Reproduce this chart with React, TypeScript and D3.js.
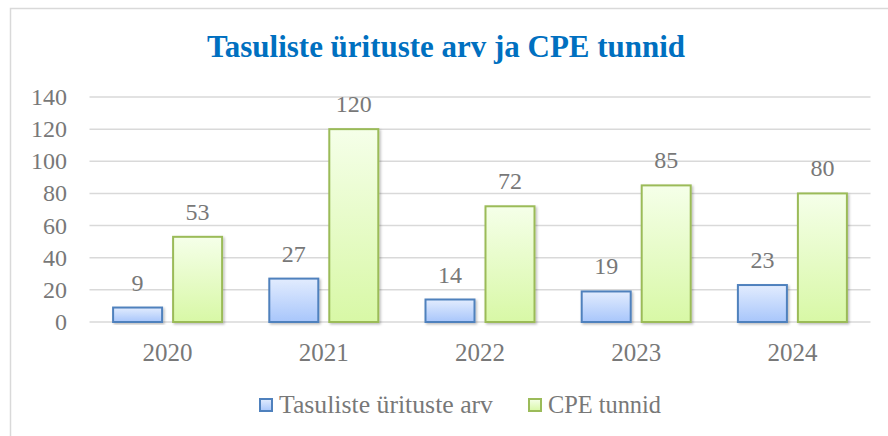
import React from "react";
import * as d3 from "d3";

const years = ["2020", "2021", "2022", "2023", "2024"];
const events = [9, 27, 14, 19, 23];
const cpeHours = [53, 120, 72, 85, 80];
const seriesNames = ["Tasuliste ürituste arv", "CPE tunnid"];
const yTicks = [0, 20, 40, 60, 80, 100, 120, 140];
const title = "Tasuliste ürituste arv ja CPE tunnid";

const W = 888;
const H = 436;
const plotLeft = 89.5;
const plotRight = 870.5;
const plotTop = 97;
const plotBottom = 322;
const textColor = "#787878";
const font = "Liberation Serif";

export default function App() {
  const x = d3.scaleBand<string>().domain(years).range([plotLeft, plotRight]).paddingInner(0).paddingOuter(0);
  const y = d3.scaleLinear().domain([0, 140]).range([plotBottom, plotTop]);
  const barW = 49;
  const gap = 11;
  const series = [
    { name: seriesNames[0], values: events, grad: "gBlue", stroke: "#4f81bd", lx: 259, tl: 214 },
    { name: seriesNames[1], values: cpeHours, grad: "gGreen", stroke: "#9bbb59", lx: 528, tl: 113 },
  ];
  const offsets = [-(gap / 2 + barW), gap / 2];

  return (
    <svg width={W} height={H} style={{ position: "absolute", left: 0, top: 0, display: "block" }}>
      <defs>
        <linearGradient id="gBlue" x1="0" y1="0" x2="0" y2="1">
          <stop offset="0" stopColor="#e2ecfe" />
          <stop offset="1" stopColor="#a8c6fb" />
        </linearGradient>
        <linearGradient id="gGreen" x1="0" y1="0" x2="0" y2="1">
          <stop offset="0" stopColor="#f5ffe9" />
          <stop offset="1" stopColor="#d8f8a6" />
        </linearGradient>
        <filter id="shadow" x="-20%" y="-20%" width="140%" height="140%">
          <feDropShadow dx="1.5" dy="1.5" stdDeviation="1.2" floodColor="#000" floodOpacity="0.25" />
        </filter>
      </defs>
      <rect x={0} y={0} width={W} height={H} fill="#fff" />
      <rect x={10.5} y={8.5} width={W} height={H} fill="#fff" stroke="#d9d9d9" strokeWidth={1.5} />
      <text
        x={446}
        y={57}
        textAnchor="middle"
        fontFamily={font}
        fontWeight="bold"
        fontSize={32}
        fill="#0070c0"
        textLength={478}
        lengthAdjust="spacingAndGlyphs"
      >
        {title}
      </text>
      {yTicks.map((t) => (
        <g key={t}>
          <line x1={plotLeft} x2={plotRight} y1={y(t)} y2={y(t)} stroke="#d9d9d9" strokeWidth={1.5} />
          <text x={67} y={y(t) + 8} textAnchor="end" fontFamily={font} fontSize={24} fill={textColor}>
            {t}
          </text>
        </g>
      ))}
      {series.map((s, si) =>
        years.map((yr, i) => {
          const cx = (x(yr) as number) + x.bandwidth() / 2;
          const bx = cx + offsets[si];
          const v = s.values[i];
          return (
            <g key={yr + si}>
              <rect
                x={bx}
                y={y(v)}
                width={barW}
                height={plotBottom - y(v)}
                fill={`url(#${s.grad})`}
                stroke={s.stroke}
                strokeWidth={2}
                filter="url(#shadow)"
              />
              <text x={bx + barW / 2} y={y(v) - 17} textAnchor="middle" fontFamily={font} fontSize={24} fill={textColor}>
                {v}
              </text>
            </g>
          );
        })
      )}
      {years.map((yr) => (
        <text
          key={yr}
          x={(x(yr) as number) + x.bandwidth() / 2}
          y={361}
          textAnchor="middle"
          fontFamily={font}
          fontSize={25}
          fill={textColor}
        >
          {yr}
        </text>
      ))}
      {series.map((s) => (
        <g key={s.name}>
          <rect x={s.lx + 1} y={399} width={12} height={12} fill={`url(#${s.grad})`} stroke={s.stroke} strokeWidth={2} />
          <text
            x={s.lx + 20}
            y={413}
            fontFamily={font}
            fontSize={25}
            fill={textColor}
            textLength={s.tl}
            lengthAdjust="spacingAndGlyphs"
          >
            {s.name}
          </text>
        </g>
      ))}
    </svg>
  );
}
